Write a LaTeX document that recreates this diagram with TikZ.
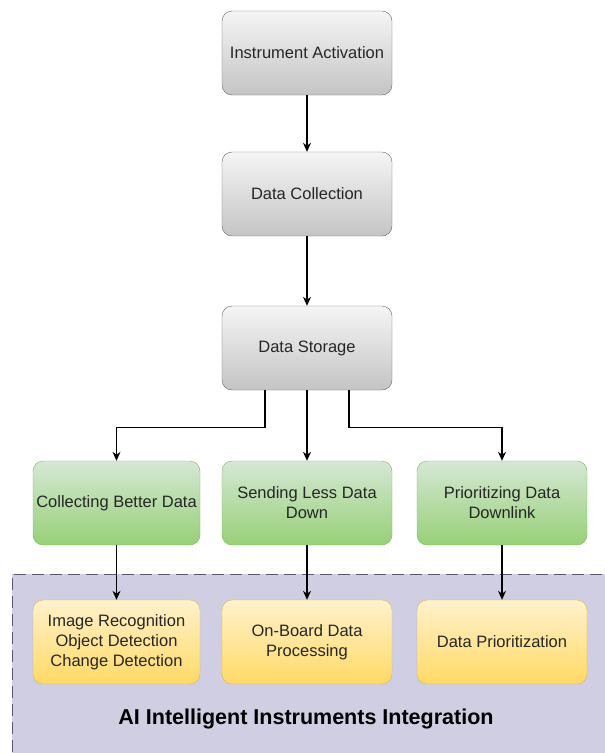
\documentclass[tikz,border=0pt]{standalone}
\usepackage{fontspec}
\setmainfont{Liberation Sans}
\usetikzlibrary{arrows.meta}

\definecolor{grayline}{HTML}{666666}
\definecolor{graytop}{HTML}{F5F5F5}
\definecolor{graybot}{HTML}{C4C4C4}
\definecolor{greenline}{HTML}{82B366}
\definecolor{greentop}{HTML}{D5E8D4}
\definecolor{greenbot}{HTML}{97D077}
\definecolor{yellowline}{HTML}{D6B656}
\definecolor{yellowtop}{HTML}{FFF2CC}
\definecolor{yellowbot}{HTML}{FFD966}
\definecolor{aifill}{HTML}{D0CEE2}
\definecolor{ailine}{HTML}{5A5770}

\tikzset{
  box/.style={rounded corners=10pt,minimum width=170pt,minimum height=84pt,
    align=center,font=\fontsize{16.5}{20}\selectfont,text=black!85,inner sep=2pt},
  graybox/.style={box,draw=grayline,top color=graytop,bottom color=graybot},
  greenbox/.style={box,draw=greenline,top color=greentop,bottom color=greenbot},
  yellowbox/.style={box,draw=yellowline,top color=yellowtop,bottom color=yellowbot},
  arr/.style={-{Stealth[length=9pt,width=8pt]},line width=1.3pt}
}

\begin{document}
\begin{tikzpicture}[x=1pt,y=-1pt]
	\useasboundingbox (0,0) rectangle (605,753);
	% AI region
	\fill[aifill] (12,574) rectangle (620,770);
	\draw[ailine,dash pattern=on 12pt off 6pt,line width=1pt] (12,770) -- (12,574) -- (620,574);
	\node[font=\fontsize{21.5}{24}\selectfont\bfseries] (ai) at (306,719) {AI Intelligent Instruments Integration};

	% main chain
	\node[graybox] (act) at (307,53) {Instrument Activation};
	\node[graybox] (coll) at (307,194) {Data Collection};
	\node[graybox] (stor) at (307,348) {Data Storage};

	\node[greenbox,minimum width=167pt] (better) at (116.5,503) {Collecting Better Data};
	\node[greenbox] (less) at (307,503) {Sending Less Data\\Down};
	\node[greenbox] (prio) at (502,503) {Prioritizing Data\\Downlink};

	\node[yellowbox,minimum width=167pt] (recog) at (116.5,642) {Image Recognition\\Object Detection\\Change Detection};
	\node[yellowbox] (onboard) at (307,642) {On-Board Data\\Processing};
	\node[yellowbox] (dprio) at (502,642) {Data Prioritization};

	\draw[arr] (act) -- (coll);
	\draw[arr] (coll) -- (stor);
	\draw[arr] ([xshift=-42pt]stor.south) -- ++(0,-37pt) -| (better.north);
	\draw[arr] (stor) -- (less);
	\draw[arr] ([xshift=42pt]stor.south) -- ++(0,-37pt) -| (prio.north);

	\draw[arr] (better) -- (recog);
	\draw[arr] (less) -- (onboard);
	\draw[arr] (prio) -- (dprio);
\end{tikzpicture}
\end{document}
